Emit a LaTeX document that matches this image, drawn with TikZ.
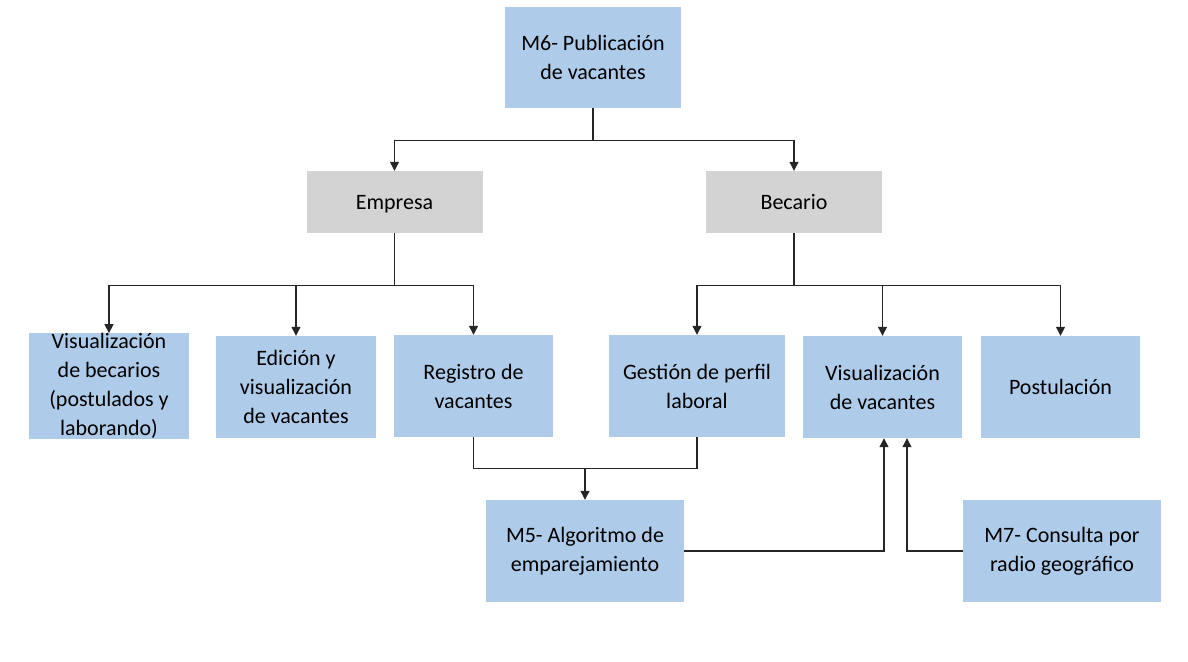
\documentclass[tikz,border=0pt]{standalone}
\usepackage{fontspec}
\setmainfont{Carlito}
\usetikzlibrary{arrows.meta}
\definecolor{cajaazul}{RGB}{174,204,234}
\definecolor{cajagris}{RGB}{211,211,211}
\begin{document}
\begin{tikzpicture}[x=1pt, y=-1pt,
	caja/.style={rectangle, fill=cajaazul, align=center, inner sep=0pt,
		font=\fontsize{22}{29}\selectfont},
	actor/.style={caja, fill=cajagris, minimum width=176pt, minimum height=62pt, text depth=0pt},
	flecha/.style={-{Triangle[width=9pt,length=9pt]}, line width=1.2pt, black!85},
	linea/.style={line width=1.2pt, black!85}]
	\useasboundingbox (0,0) rectangle (1188,661);

	\node[caja, minimum width=176pt, minimum height=101pt] (m6) at (593,57.5) {M6- Publicaci\'on\\de vacantes};

	\node[actor] (emp) at (394.5,202) {Empresa};
	\node[actor] (bec) at (794,202) {Becario};

	\node[caja, minimum width=160pt, minimum height=102pt] (vbec) at (109,386) {Visualizaci\'on\\de becarios\\(postulados y\\laborando)};
	\node[caja, minimum width=160pt, minimum height=102pt] (edi) at (296,387) {Edici\'on y\\visualizaci\'on\\de vacantes};
	\node[caja, minimum width=159pt, minimum height=102pt] (reg) at (473.5,386) {Registro de\\vacantes};
	\node[caja, minimum width=176pt, minimum height=102pt] (ges) at (697,386) {Gesti\'on de perfil\\laboral};
	\node[caja, minimum width=159pt, minimum height=102pt] (vvac) at (882.5,387) {Visualizaci\'on\\de vacantes};
	\node[caja, minimum width=159pt, minimum height=102pt] (pos) at (1060.5,387) {Postulaci\'on};

	\node[caja, minimum width=198pt, minimum height=102pt] (m5) at (585,551) {M5- Algoritmo de\\emparejamiento};
	\node[caja, minimum width=198pt, minimum height=102pt] (m7) at (1062,551) {M7- Consulta por\\radio geogr\'afico};

	% ramas principales
	\draw[linea] (m6.south) -- ++(0,32) coordinate (j6);
	\draw[flecha] (j6) -| (emp);
	\draw[flecha] (j6) -| (bec);

	\draw[linea] (emp.south) -- ++(0,52) coordinate (je);
	\foreach \hijo in {vbec, edi, reg}
		\draw[flecha] (je) -| (\hijo);

	\draw[linea] (bec.south) -- ++(0,52) coordinate (jb);
	\foreach \hijo in {ges, vvac, pos}
		\draw[flecha] (jb) -| (\hijo);

	% hacia el algoritmo
	\draw[linea] (reg.south) -- ++(0,31) -| (ges.south);
	\coordinate (jm) at (m5.north |- 0,468);
	\draw[flecha] (jm) -- (m5.north);

	\draw[flecha] (m5.east) -| ([xshift=1.5pt]vvac.south);
	\draw[flecha] (m7.west) -| ([xshift=24.5pt]vvac.south);
\end{tikzpicture}
\end{document}
